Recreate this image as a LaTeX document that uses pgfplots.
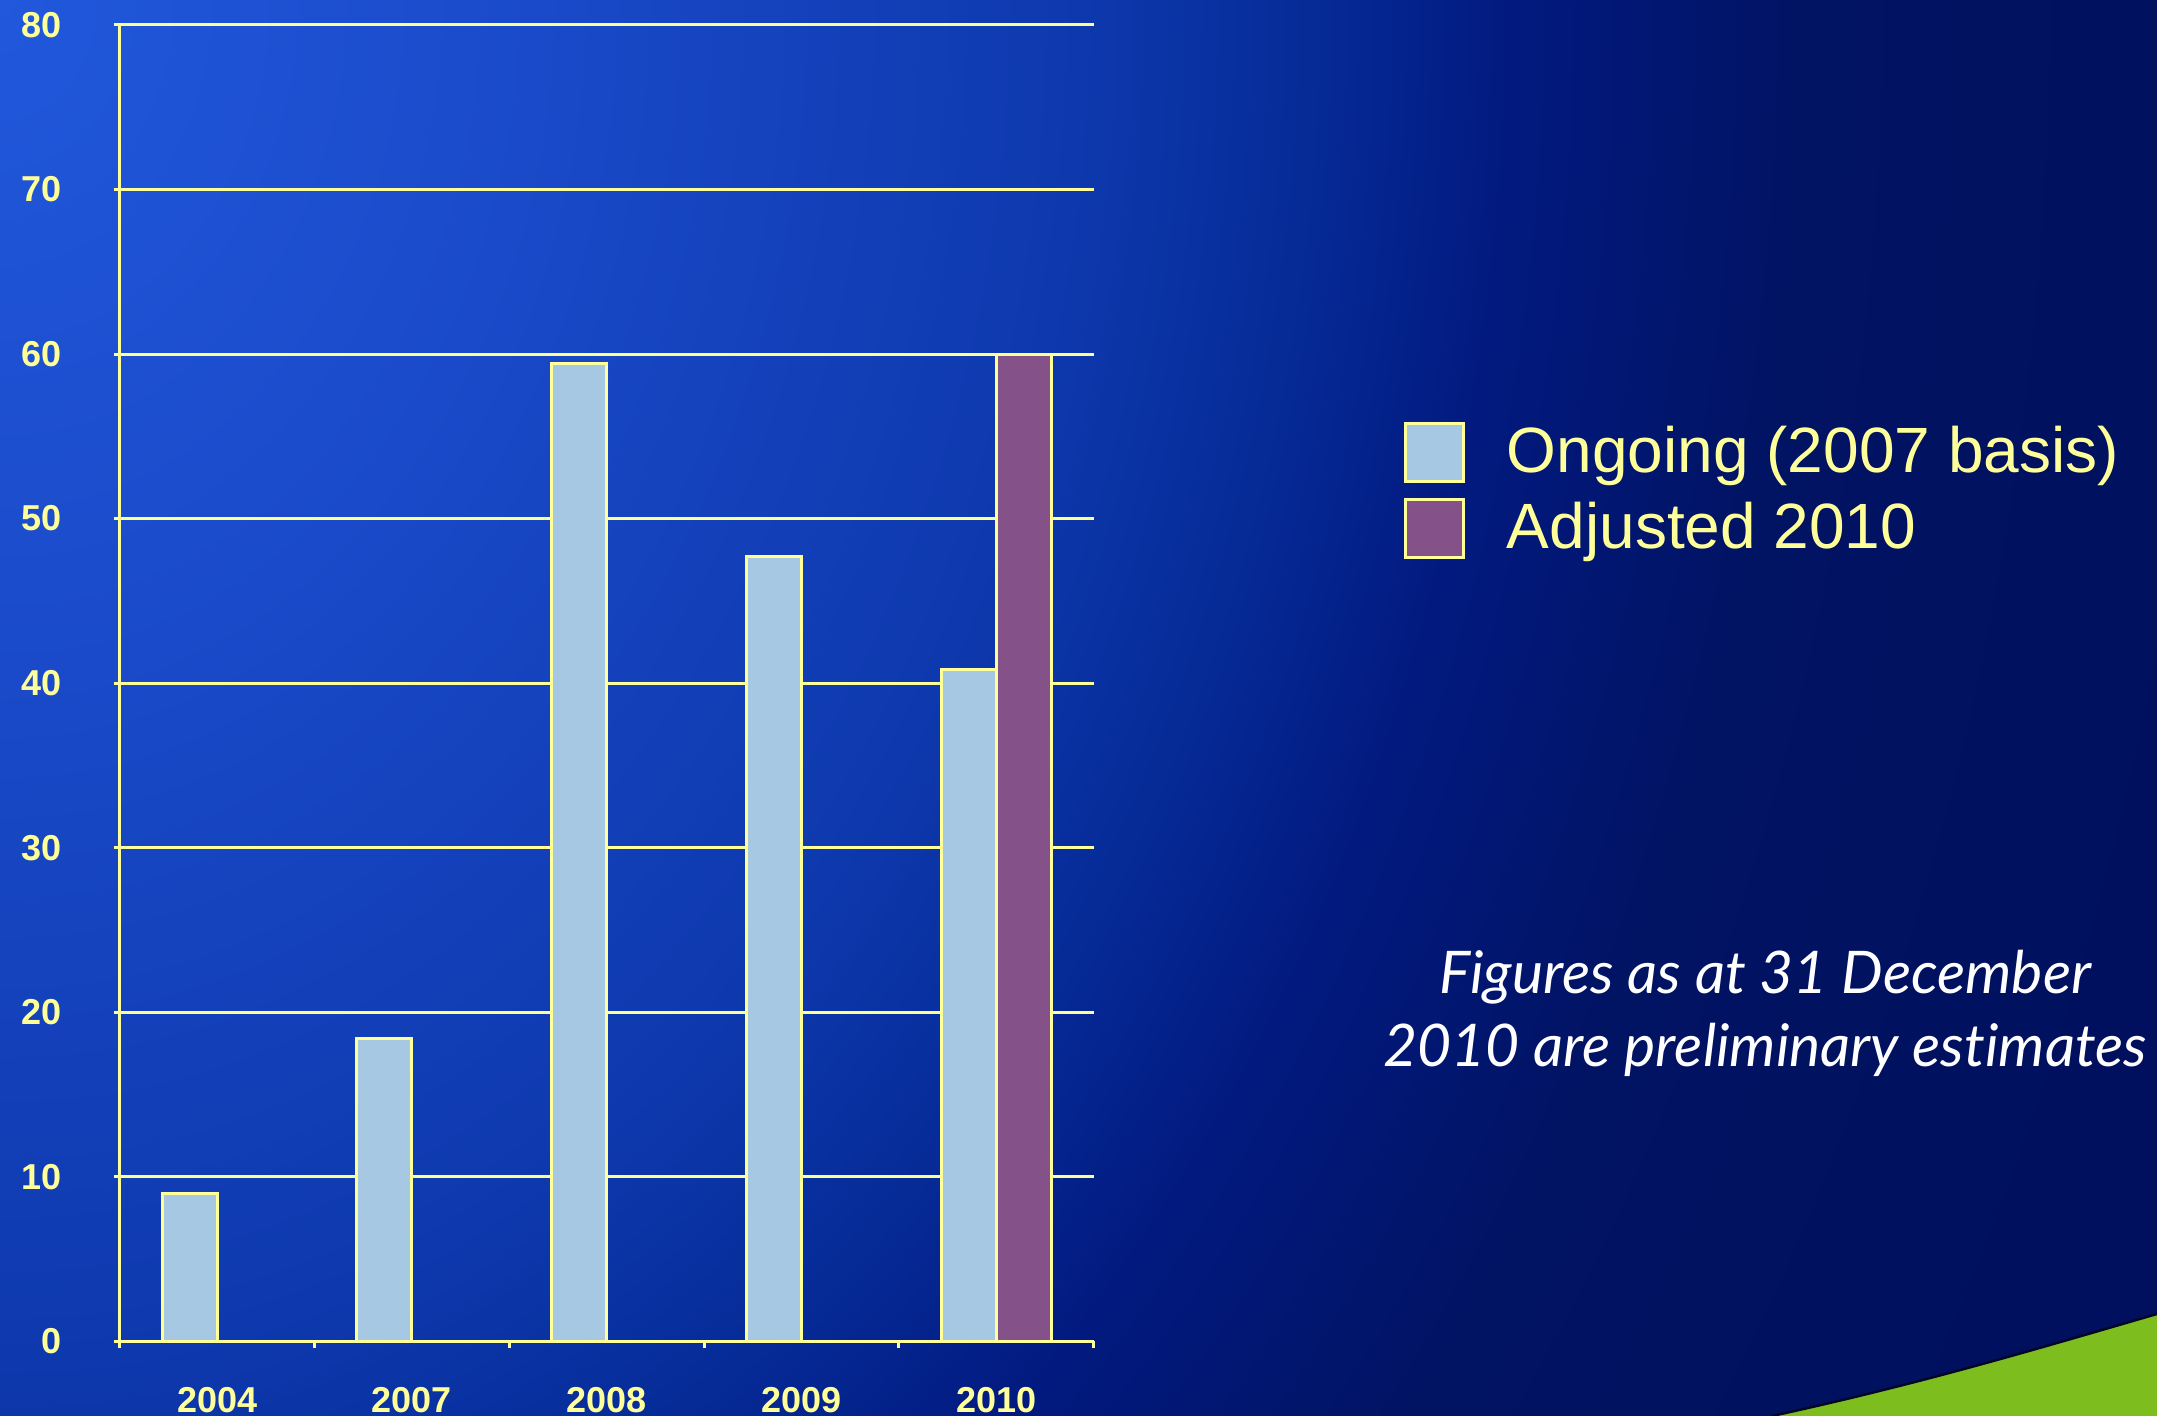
\documentclass[border=0pt]{standalone}
\usepackage{pgfplots}
\pgfplotsset{compat=1.18}
\usepackage{fontspec}
\setmainfont{Liberation Sans}
\newfontfamily\latofont[Ligatures=NoCommon]{Lato}
\definecolor{sA}{HTML}{2158DC}
\definecolor{sB}{HTML}{1A4AC9}
\definecolor{sC}{HTML}{0E39AE}
\definecolor{sD}{HTML}{062C99}
\definecolor{sE}{HTML}{021A80}
\definecolor{sF}{HTML}{011363}
\definecolor{sG}{HTML}{00105E}
\pgfdeclareradialshading{bgshade}{\pgfpoint{0bp}{0bp}}{color(0bp)=(sA); color(5.85bp)=(sB); color(11.7bp)=(sC); color(14.05bp)=(sD); color(16.4bp)=(sE); color(19.55bp)=(sF); color(25bp)=(sG); color(50bp)=(sG)}
\definecolor{ylw}{HTML}{FFFF99}
\definecolor{barblue}{HTML}{A6C8E3}
\definecolor{barpurple}{HTML}{845189}
\definecolor{grn}{HTML}{7DBD1E}
\pgfplotsset{sqlegend/.style={legend image code/.code={\draw[##1, line width=0.75pt] (0pt,-7.25pt) rectangle (14.5pt,7.25pt); \path[draw=none,fill=none] (0pt,0pt) -- (23.4pt,0pt);}}}
\begin{document}
\begin{tikzpicture}
\clip (0,0) rectangle (539.25pt,354pt);
\fill[sG] (0,0) rectangle (539.25pt,354pt);
\shade[shading=bgshade] (0pt,354pt) ellipse (575pt and 724.5pt);
\fill[grn] (443pt,0pt) .. controls (480pt,8pt) and (510pt,17pt) .. (539.25pt,25.5pt) -- (539.25pt,0pt) -- cycle;
\draw[color=black!60!sG, line width=0.6pt] (443pt,0pt) .. controls (480pt,8pt) and (510pt,17pt) .. (539.25pt,25.5pt);
\begin{axis}[
  at={(29.925pt,18.675pt)}, anchor=south west,
  scale only axis, width=243.5pt, height=329.1pt,
  ybar=0pt, bar width=13.75pt,
  xmin=-0.5, xmax=4.5, ymin=0, ymax=80,
  axis lines=left,
  axis line style={-, draw=ylw, line width=0.75pt},
  xtick={0,1,2,3,4}, xticklabels={2004,2007,2008,2009,2010},
  minor xtick={-0.5,0.5,1.5,2.5,3.5,4.5},
  ytick={0,10,...,80},
  tick align=outside,
  tick style={draw=ylw, line width=0.75pt},
  major x tick style={draw=none},
  major tick length=1.5pt, minor tick length=1.75pt,
  ymajorgrids, major grid style={draw=ylw, line width=0.75pt},
  tick label style={font=\fontsize{9}{10}\selectfont\bfseries, text=ylw},
  xticklabel style={yshift=-6.5pt},
  yticklabel style={xshift=-9.6pt},
  /pgf/number format/assume math mode=true,
  legend style={at={(1.3176,0.702)}, anchor=north west, draw=none, fill=none,
    font=\fontsize{16}{19}\selectfont, text=ylw, cells={anchor=west}, row sep=2pt, inner sep=0pt},
]
\addplot[fill=barblue, draw=ylw, line width=0.75pt, sqlegend] coordinates {(0,9) (1,18.4) (2,59.4) (3,47.7) (4,40.8)};
\addlegendentry{Ongoing (2007 basis)}
\addplot[fill=barpurple, draw=ylw, line width=0.75pt, sqlegend] coordinates {(4,60)};
\addlegendentry{Adjusted 2010}
\end{axis}
\node[align=center, font=\fontsize{14.7}{18.25}\selectfont\latofont\itshape, text=white] at (441.3pt,100.6pt) {Figures as at 31 December\\2010 are preliminary estimates};
\end{tikzpicture}
\end{document}
